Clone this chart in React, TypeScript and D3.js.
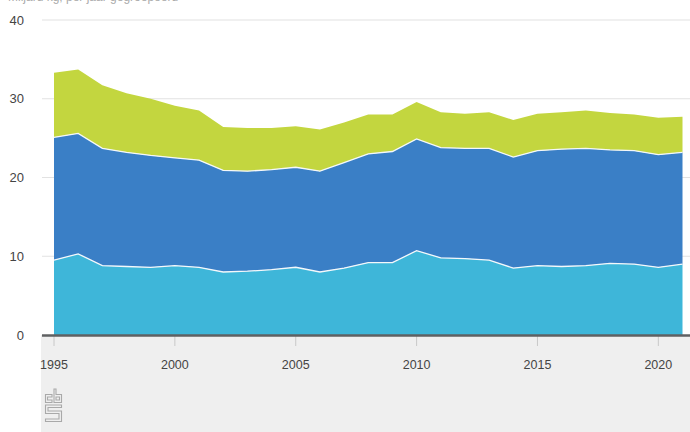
import React, { useEffect, useRef } from "react";
import * as d3 from "d3";

const years = [
  1995, 1996, 1997, 1998, 1999, 2000, 2001, 2002, 2003, 2004, 2005, 2006, 2007,
  2008, 2009, 2010, 2011, 2012, 2013, 2014, 2015, 2016, 2017, 2018, 2019, 2020,
  2021,
];
const seriesA = [
  9.5, 10.3, 8.8, 8.7, 8.6, 8.8, 8.6, 8.0, 8.1, 8.3, 8.6, 8.0, 8.5, 9.2, 9.2,
  10.7, 9.8, 9.7, 9.5, 8.5, 8.8, 8.7, 8.8, 9.1, 9.0, 8.6, 9.0,
];
const seriesB = [
  15.6, 15.3, 14.9, 14.5, 14.2, 13.7, 13.6, 12.9, 12.7, 12.7, 12.7, 12.8, 13.4,
  13.8, 14.1, 14.2, 14.0, 14.0, 14.2, 14.1, 14.6, 14.9, 14.9, 14.4, 14.4, 14.3,
  14.2,
];
const seriesC = [
  8.2, 8.1, 8.0, 7.5, 7.2, 6.6, 6.3, 5.5, 5.5, 5.3, 5.2, 5.3, 5.1, 5.0, 4.7, 4.7,
  4.5, 4.4, 4.6, 4.7, 4.7, 4.7, 4.8, 4.7, 4.6, 4.7, 4.5,
];
const keys = ["a", "b", "c"];
const colors = ["#3eb6d9", "#3a7fc6", "#c3d63f"];
const yTicks = [0, 10, 20, 30, 40];
const xTicks = [1995, 2000, 2005, 2010, 2015, 2020];

const W = 690;
const H = 432;

const App: React.FC = () => {
  const svgRef = useRef(null);

  useEffect(() => {
    const svg = d3.select(svgRef.current);
    svg.selectAll("*").remove();

    const rows = years.map((y, i) => ({
      year: y,
      a: seriesA[i],
      b: seriesB[i],
      c: seriesC[i],
    }));

    const x = d3.scaleLinear().domain([1995, 2021]).range([54, 682.5]);
    const y = d3.scaleLinear().domain([0, 40]).range([335, 20]);
    const font = "'Liberation Sans', Arial, sans-serif";

    // grey bottom panel
    svg
      .append("rect")
      .attr("x", 41)
      .attr("y", 335)
      .attr("width", W - 41)
      .attr("height", H - 335)
      .attr("fill", "#efefef");

    // cut-off unit label
    svg
      .append("text")
      .attr("x", 8)
      .attr("y", 1)
      .style("font", `12px ${font}`)
      .attr("fill", "#aaa")
      .text("Miljard kg, per jaar gegroepeerd");

    // gridlines
    svg
      .append("g")
      .selectAll("line")
      .data(yTicks.filter((t) => t > 0))
      .enter()
      .append("line")
      .attr("x1", 42)
      .attr("x2", W)
      .attr("y1", (d) => y(d))
      .attr("y2", (d) => y(d))
      .attr("stroke", "#e2e2e2")
      .attr("stroke-width", 1.2);

    svg
      .append("g")
      .selectAll("text")
      .data(yTicks)
      .enter()
      .append("text")
      .attr("x", 24)
      .attr("y", (d) => y(d))
      .attr("dy", "0.36em")
      .attr("text-anchor", "end")
      .style("font", `13px ${font}`)
      .attr("fill", "#444")
      .text((d) => d);

    const stack = d3.stack<any>().keys(keys);
    const layers = stack(rows);

    const area = d3
      .area<any>()
      .x((d) => x(d.data.year))
      .y0((d) => y(d[0]))
      .y1((d) => y(d[1]));

    const line = d3
      .line<any>()
      .x((d) => x(d.data.year))
      .y((d) => y(d[1]));

    const g = svg.append("g");
    g.selectAll("path.area")
      .data(layers)
      .enter()
      .append("path")
      .attr("class", "area")
      .attr("d", (d: any) => area(d))
      .attr("fill", (_, i) => colors[i]);

    g.selectAll("path.edge")
      .data(layers.slice(0, 2))
      .enter()
      .append("path")
      .attr("class", "edge")
      .attr("d", (d: any) => line(d))
      .attr("fill", "none")
      .attr("stroke", "#f4f8fb")
      .attr("stroke-width", 1.3);

    // x ticks
    svg
      .append("g")
      .selectAll("line")
      .data(xTicks)
      .enter()
      .append("line")
      .attr("x1", (d) => x(d))
      .attr("x2", (d) => x(d))
      .attr("y1", 336)
      .attr("y2", 346)
      .attr("stroke", "#c8c8c8");

    svg
      .append("g")
      .selectAll("text")
      .data(xTicks)
      .enter()
      .append("text")
      .attr("x", (d) => x(d))
      .attr("y", 369)
      .attr("text-anchor", "middle")
      .style("font", `12.5px ${font}`)
      .attr("fill", "#444")
      .text((d) => d);

    // axis line
    svg
      .append("line")
      .attr("x1", 42)
      .attr("x2", W)
      .attr("y1", 335.5)
      .attr("y2", 335.5)
      .attr("stroke", "#5f6062")
      .attr("stroke-width", 2.5);

    // cbs logo (simplified)
    const logo = svg
      .append("g")
      .attr("transform", "translate(45,388)")
      .attr("fill", "none")
      .attr("stroke", "#a9a9a9")
      .attr("stroke-width", 1.1);
    logo.append("path").attr("d", "M0.5,6.5 H7 V9 H2.5 V12 H7 V14.5 H0.5 Z");
    logo.append("path").attr("d", "M9,1 H11 V6.5 H16.5 V14.5 H9 Z M11,9 V12 H14.5 V9 Z");
    logo
      .append("path")
      .attr(
        "d",
        "M0.5,17 H16.5 V19.5 H3 V23 H16.5 V33.5 H0.5 V31 H14 V25.5 H0.5 Z"
      );
  }, []);

  return (
    <svg
      ref={svgRef}
      width={W}
      height={H}
      style={{ position: "absolute", left: 0, top: 0, display: "block" }}
    />
  );
};

export default App;
